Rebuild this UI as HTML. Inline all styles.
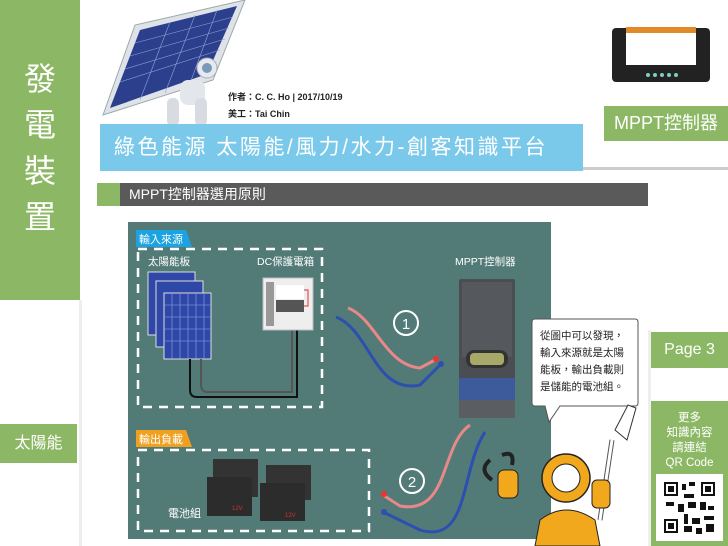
<!DOCTYPE html>
<html><head><meta charset="utf-8"><style>
body{margin:0;width:728px;height:546px;overflow:hidden;background:#fff;font-family:"Liberation Sans","Noto Sans CJK TC",sans-serif;position:relative}
.a{position:absolute}
</style></head><body>
<div class="a" style="left:0;top:0;width:80px;height:300px;background:#8cb865"></div>
<div class="a" style="left:79px;top:300px;width:3px;height:246px;background:#eee"></div>
<div class="a" style="left:18px;top:56px;width:44px;color:#fff;font-size:32px;line-height:46px;text-align:center">發<br>電<br>裝<br>置</div>
<div class="a" style="left:0;top:424px;width:77px;height:39px;background:#8cb865;color:#fff;font-size:16px;line-height:39px;text-align:center">太陽能</div>

<svg class="a" style="left:95px;top:0" width="160" height="130">
<polygon points="8,115 40,25 150,0 118,80" fill="#dfe3e8" stroke="#9aa" />
<polygon points="15,108 45,30 142,6 112,74" fill="#2c3f8c"/>
<g stroke="#8fa4d8" stroke-width="0.6"><line x1="25" y1="82" x2="125" y2="50"/><line x1="35" y1="56" x2="134" y2="28"/><line x1="30" y1="69" x2="130" y2="39"/><line x1="40" y1="43" x2="138" y2="17"/><line x1="45" y1="100" x2="75" y2="22"/><line x1="70" y1="93" x2="100" y2="15"/><line x1="94" y1="86" x2="122" y2="10"/></g>
<circle cx="112" cy="68" r="10" fill="#e6e9ee" stroke="#aab"/><circle cx="112" cy="68" r="5" fill="#7a9ab8"/>
<rect x="85" y="80" width="25" height="25" rx="8" fill="#e3e6ea"/>
<rect x="72" y="98" width="12" height="28" rx="5" fill="#d8dce2"/><rect x="100" y="98" width="12" height="28" rx="5" fill="#d8dce2"/>
</svg>
<div class="a" style="left:228px;top:90px;font-size:9px;font-weight:bold;color:#222">作者：C. C. Ho | 2017/10/19</div>
<div class="a" style="left:228px;top:107px;font-size:9px;font-weight:bold;color:#222">美工：Tai Chin</div>
<div class="a" style="left:583px;top:167px;width:145px;height:3px;background:#ccc"></div>
<div class="a" style="left:100px;top:124px;width:483px;height:47px;background:#7ac9ea;color:#fff;font-size:21px;line-height:47px;text-indent:14px;letter-spacing:2.5px;white-space:nowrap;overflow:hidden">綠色能源 太陽能/風力/水力-創客知識平台</div>

<svg class="a" style="left:608px;top:20px" width="106" height="66">
<rect x="4" y="8" width="98" height="54" rx="4" fill="#222"/>
<rect x="18" y="7" width="70" height="6" fill="#e08a2a"/>
<rect x="18" y="13" width="70" height="32" fill="#fff"/>
<g fill="#7ccfc0"><circle cx="40" cy="55" r="2"/><circle cx="47" cy="55" r="2"/><circle cx="54" cy="55" r="2"/><circle cx="61" cy="55" r="2"/><circle cx="68" cy="55" r="2"/></g>
</svg>
<div class="a" style="left:604px;top:106px;width:124px;height:35px;background:#8cb865;color:#fff;font-size:18px;line-height:35px;text-align:center">MPPT控制器</div>

<div class="a" style="left:97px;top:183px;width:551px;height:23px;background:#5a5a5a"></div>
<div class="a" style="left:97px;top:183px;width:23px;height:23px;background:#8cb865"></div>
<div class="a" style="left:129px;top:183px;color:#fff;font-size:14px;line-height:23px">MPPT控制器選用原則</div>

<div class="a" style="left:648px;top:330px;width:3px;height:216px;background:#eee"></div>
<div class="a" style="left:651px;top:332px;width:77px;height:36px;background:#8cb865;color:#fff;font-size:16px;line-height:36px;text-align:center">Page 3</div>
<div class="a" style="left:651px;top:401px;width:77px;height:145px;background:#8cb865;color:#fff;font-size:11.5px;line-height:15px;text-align:center;padding-top:10px;box-sizing:border-box">更多<br>知識內容<br>請連結<br>QR Code</div>
<svg class="a" style="left:656px;top:474px" width="67" height="67">
<rect width="67" height="67" fill="#fff"/>
<g fill="#111"><rect x="8" y="8" width="14" height="14"/><rect x="45" y="8" width="14" height="14"/><rect x="8" y="45" width="14" height="14"/>
<rect x="26" y="10" width="4" height="6"/><rect x="33" y="8" width="6" height="4"/><rect x="28" y="20" width="10" height="4"/><rect x="10" y="28" width="8" height="4"/><rect x="22" y="30" width="6" height="8"/><rect x="32" y="28" width="8" height="6"/><rect x="44" y="28" width="6" height="8"/><rect x="52" y="32" width="6" height="4"/><rect x="28" y="40" width="4" height="10"/><rect x="36" y="44" width="8" height="6"/><rect x="48" y="42" width="10" height="4"/><rect x="28" y="52" width="8" height="6"/><rect x="40" y="54" width="6" height="6"/><rect x="50" y="50" width="8" height="8"/></g>
<g fill="#fff"><rect x="10" y="10" width="10" height="10"/><rect x="47" y="10" width="10" height="10"/><rect x="10" y="47" width="10" height="10"/></g>
<g fill="#111"><rect x="12" y="12" width="6" height="6"/><rect x="49" y="12" width="6" height="6"/><rect x="12" y="49" width="6" height="6"/></g>
</svg>

<svg class="a" style="left:0;top:0" width="728" height="546">
<rect x="128" y="222" width="423" height="317" fill="#527b78"/>
<polygon points="136,230 186,230 192,247 136,247" fill="#1aa3e0"/>
<text x="139" y="243" fill="#fff" font-size="11" font-family="Liberation Sans,Noto Sans CJK TC,sans-serif">輸入來源</text>
<rect x="138" y="249" width="184" height="158" fill="none" stroke="#fff" stroke-width="2.5" stroke-dasharray="9,7"/>
<text x="148" y="265" fill="#fff" font-size="10.5" font-family="Liberation Sans,Noto Sans CJK TC,sans-serif">太陽能板</text>
<text x="257" y="265" fill="#fff" font-size="10.5" font-family="Liberation Sans,Noto Sans CJK TC,sans-serif">DC保護電箱</text>
<text x="455" y="265" fill="#fff" font-size="10.5" font-family="Liberation Sans,Noto Sans CJK TC,sans-serif">MPPT控制器</text>
<g stroke="#ddd" stroke-width="1"><rect x="148" y="272" width="47" height="63" fill="#2f48a8"/><rect x="156" y="281" width="47" height="66" fill="#2f48a8"/><rect x="164" y="293" width="47" height="66" fill="#2f48a8"/></g>
<g stroke="#8ea6e6" stroke-width="0.6"><line x1="164" y1="305" x2="211" y2="305"/><line x1="164" y1="317" x2="211" y2="317"/><line x1="164" y1="329" x2="211" y2="329"/><line x1="164" y1="341" x2="211" y2="341"/><line x1="172" y1="293" x2="172" y2="359"/><line x1="180" y1="293" x2="180" y2="359"/><line x1="188" y1="293" x2="188" y2="359"/><line x1="196" y1="293" x2="196" y2="359"/><line x1="204" y1="293" x2="204" y2="359"/></g>
<path d="M190,359 V390 Q190,397 197,397 H297 V330" fill="none" stroke="#111" stroke-width="2"/>
<path d="M201,359 V385 Q201,392 208,392 H292 V330" fill="none" stroke="#555" stroke-width="2"/>
<rect x="263" y="278" width="50" height="52" fill="#eee" stroke="#bbb"/>
<rect x="266" y="282" width="8" height="44" fill="#999"/>
<rect x="276" y="285" width="28" height="14" fill="#fff"/>
<rect x="276" y="300" width="28" height="12" fill="#555"/>
<path d="M304,290 H308 V306 H304" fill="none" stroke="#d33"/>
<path d="M348,308 C375,318 385,365 420,368 L435,360" fill="none" stroke="#e88888" stroke-width="3"/>
<path d="M336,317 C370,330 375,395 420,385 L440,365" fill="none" stroke="#2c4fb0" stroke-width="3"/>
<circle cx="436" cy="359" r="3" fill="#e33"/><circle cx="441" cy="364" r="3" fill="#2c4fb0"/>
<circle cx="406" cy="323" r="12" fill="none" stroke="#fff" stroke-width="2"/><text x="406" y="329" fill="#fff" font-size="15" text-anchor="middle" font-family="Liberation Sans,sans-serif">1</text>
<rect x="459" y="279" width="56" height="139" rx="2" fill="#4a4e52"/>
<rect x="462" y="282" width="50" height="75" fill="#55595e"/>
<rect x="466" y="350" width="42" height="18" rx="8" fill="#333"/><rect x="470" y="353" width="34" height="12" rx="4" fill="#a8a868"/>
<rect x="459" y="378" width="56" height="22" fill="#3d5a9a"/>
<rect x="459" y="400" width="56" height="18" fill="#5a5e63"/>
<polygon points="136,430 186,430 192,447 136,447" fill="#f0a020"/>
<text x="139" y="443" fill="#fff" font-size="11" font-family="Liberation Sans,Noto Sans CJK TC,sans-serif">輸出負載</text>
<rect x="138" y="450" width="231" height="81" fill="none" stroke="#fff" stroke-width="2.5" stroke-dasharray="9,7"/>
<g fill="#333"><rect x="213" y="459" width="45" height="38"/><rect x="266" y="465" width="45" height="35"/><rect x="207" y="477" width="45" height="39" fill="#2c2c2c"/><rect x="260" y="483" width="45" height="38" fill="#2c2c2c"/></g>
<text x="232" y="510" fill="#c33" font-size="6">12V</text><text x="285" y="517" fill="#c33" font-size="6">12V</text>
<text x="168" y="517" fill="#fff" font-size="11" font-family="Liberation Sans,Noto Sans CJK TC,sans-serif">電池組</text>
<path d="M470,425 C440,445 450,515 400,506 L383,495" fill="none" stroke="#e88888" stroke-width="3"/>
<path d="M485,432 C460,470 470,545 420,530 L383,512" fill="none" stroke="#2c4fb0" stroke-width="3"/>
<circle cx="384" cy="494" r="3" fill="#e33"/><circle cx="384" cy="512" r="3" fill="#2c4fb0"/>
<circle cx="412" cy="481" r="12" fill="none" stroke="#fff" stroke-width="2"/><text x="412" y="487" fill="#fff" font-size="15" text-anchor="middle" font-family="Liberation Sans,sans-serif">2</text>
<path d="M535,319 H635 Q638,319 638,322 V403 Q638,406 635,406 H560 L549,422 L545,406 H535 Q532,406 532,403 V322 Q532,319 535,319 Z" fill="#fff" stroke="#555"/>
<text fill="#222" font-size="10.5" font-family="Liberation Sans,Noto Sans CJK TC,sans-serif"><tspan x="540" y="339">從圖中可以發現，</tspan><tspan x="540" y="356">輸入來源就是太陽</tspan><tspan x="540" y="373">能板，輸出負載則</tspan><tspan x="540" y="390">是儲能的電池組。</tspan></text>
<line x1="612" y1="440" x2="600" y2="520" stroke="#555" stroke-width="5"/><line x1="612" y1="440" x2="600" y2="520" stroke="#fff" stroke-width="3"/>
<path d="M615,430 L628,405 L636,408 L627,440 Z" fill="#fff" stroke="#333"/>
<circle cx="566" cy="478" r="24" fill="#f2a81d" stroke="#222" stroke-width="1.5"/>
<circle cx="566" cy="478" r="14" fill="#fff" stroke="#222"/>
<path d="M540,520 Q566,500 595,520 L600,546 H535 Z" fill="#f2a81d" stroke="#222"/>
<rect x="498" y="470" width="20" height="28" rx="6" fill="#f2a81d" stroke="#222"/>
<path d="M490,460 Q478,470 492,480 M502,455 Q515,450 512,465" fill="none" stroke="#222" stroke-width="4"/>
<rect x="592" y="480" width="18" height="28" rx="5" fill="#f2a81d" stroke="#222"/>
</svg>
</body></html>
